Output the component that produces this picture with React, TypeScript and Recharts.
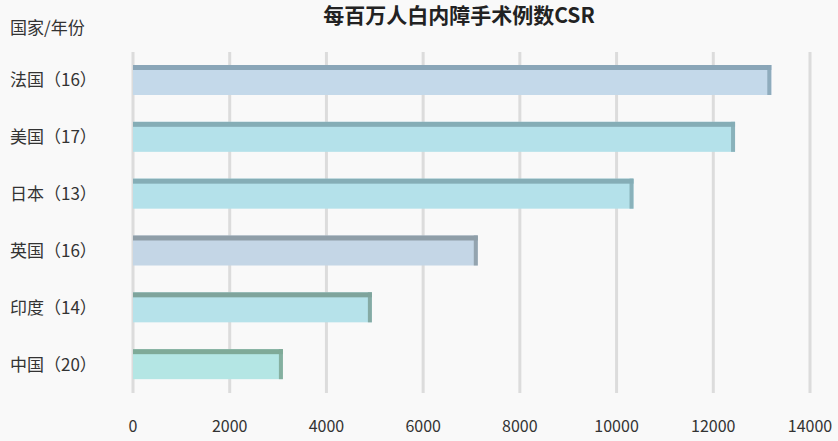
import React from 'react';
import { BarChart, Bar, XAxis, YAxis, CartesianGrid } from 'recharts';

// 国家/年份
const countries = ['法国（16）', '美国（17）', '日本（13）', '英国（16）', '印度（14）', '中国（20）'];
// 每百万人白内障手术例数
const csrValues = [13200, 12450, 10350, 7130, 4940, 3100];
const barColors = ['#c4d9ea', '#b4e1ea', '#b4e1ea', '#c4d6e6', '#b6e2ea', '#b4e6e4'];
const edgeColors = ['#8aa6b8', '#85adb6', '#85adb6', '#8f9ea8', '#7fa49c', '#7faa98'];
const xTicks = [0, 2000, 4000, 6000, 8000, 10000, 12000, 14000];

const data = countries.map((name, i) => ({ name, value: csrValues[i], idx: i }));

const FONT = '"Noto Sans CJK SC", "Noto Sans", sans-serif';

// flat bar with a darker top strip and end cap, like the source
const BarShape = (props: any) => {
  const { x, y, width, height, payload } = props;
  const i = payload.idx;
  return (
    <g>
      <rect x={x} y={y} width={width} height={height} fill={barColors[i]} />
      <rect x={x} y={y} width={width} height={5} fill={edgeColors[i]} />
      <rect x={x + width - 4} y={y} width={4} height={height} fill={edgeColors[i]} opacity={0.9} />
    </g>
  );
};

const CountryTick = (props: any) => {
  const { y, payload } = props;
  return (
    <text x={10} y={y} dy={6} textAnchor="start" fill="#333" fontSize={17} fontFamily={FONT}>
      {payload.value}
    </text>
  );
};

export default function App() {
  return (
    <div style={{ position: 'absolute', left: 0, top: 0, width: 838, height: 441, background: '#f9f9f9', fontFamily: FONT }}>
      <BarChart
        width={838}
        height={441}
        data={data}
        layout="vertical"
        margin={{ top: 52, right: 28, bottom: 0, left: 0 }}
        barSize={30}
      >
        <CartesianGrid horizontal={false} stroke="#dcdcdc" strokeWidth={3} />
        <XAxis
          type="number"
          domain={[0, 14000]}
          ticks={xTicks}
          axisLine={false}
          tickLine={false}
          height={48}
          tickMargin={22}
          tick={{ fill: '#333', fontSize: 16, fontFamily: FONT }}
        />
        <YAxis
          type="category"
          dataKey="name"
          width={133}
          axisLine={false}
          tickLine={false}
          tick={<CountryTick />}
        />
        <Bar dataKey="value" isAnimationActive={false} shape={<BarShape />} />
      </BarChart>
      <div style={{ position: 'absolute', left: 0, width: 918, top: 2, textAlign: 'center', fontSize: 21, fontWeight: 700, color: '#222', lineHeight: '24px', zIndex: 2 }}>
        每百万人白内障手术例数CSR
      </div>
      <div style={{ position: 'absolute', left: 10, top: 14, fontSize: 17, color: '#333', zIndex: 2 }}>国家/年份</div>
    </div>
  );
}
